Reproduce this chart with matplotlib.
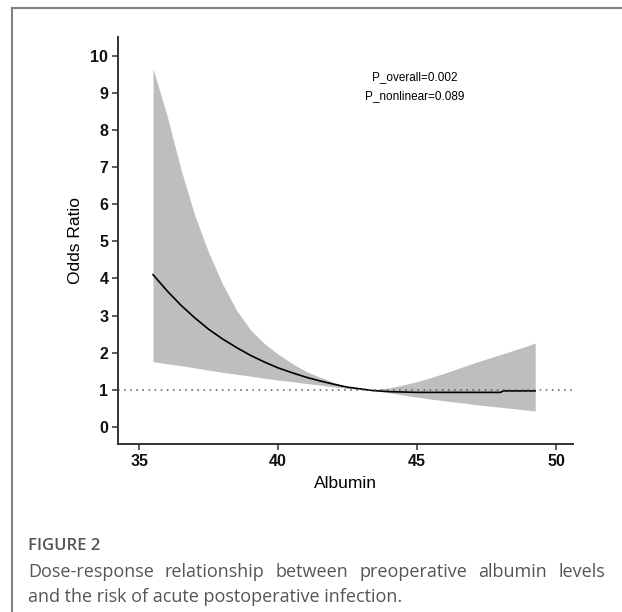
import numpy as np
import matplotlib.pyplot as plt
from matplotlib.lines import Line2D

# albumin grid and read-off values
albumin = [35.5, 36.0, 36.5, 37.0, 37.5, 38.0, 38.5, 39.0, 39.5, 40.0,
           40.5, 41.0, 41.5, 42.0, 42.5, 43.0, 43.4, 44.0, 44.5, 45.0,
           45.5, 46.0, 46.5, 47.0, 47.5, 48.0, 48.1, 48.5, 49.0, 49.25]
odds_ratio = [4.10, 3.67, 3.28, 2.94, 2.63, 2.37, 2.14, 1.93, 1.75, 1.59,
              1.46, 1.34, 1.24, 1.15, 1.07, 1.02, 0.98, 0.95, 0.94, 0.93,
              0.93, 0.93, 0.93, 0.93, 0.93, 0.93, 0.97, 0.97, 0.97, 0.97]
ci_upper = [9.65, 8.40, 6.95, 5.70, 4.70, 3.85, 3.15, 2.62, 2.25, 1.96,
            1.71, 1.50, 1.34, 1.20, 1.08, 1.02, 1.00, 1.05, 1.13, 1.22,
            1.33, 1.45, 1.58, 1.71, 1.83, 1.95, 1.97, 2.07, 2.19, 2.26]
ci_lower = [1.76, 1.70, 1.65, 1.59, 1.53, 1.47, 1.42, 1.37, 1.31, 1.26,
            1.22, 1.17, 1.13, 1.08, 1.04, 1.01, 0.99, 0.92, 0.86, 0.80,
            0.75, 0.70, 0.66, 0.61, 0.57, 0.53, 0.52, 0.49, 0.45, 0.43]

x_ticks = [35, 40, 45, 50]
y_ticks = list(range(0, 11))
p_texts = ["P_overall=0.002", "P_nonlinear=0.089"]

caption_title = "FIGURE 2"
caption_line1 = "Dose-response relationship between preoperative albumin levels"
caption_line2 = "and the risk of acute postoperative infection."

plt.rcParams['font.family'] = ['Liberation Sans', 'DejaVu Sans']

fig = plt.figure(figsize=(6.22, 6.12), dpi=100)
ax = fig.add_axes([0.1897, 0.2745, 0.7315, 0.665])

ax.fill_between(albumin, ci_lower, ci_upper, color='#bebebe', linewidth=0)
ax.plot(albumin, odds_ratio, color='black', linewidth=1.2)
ax.axhline(1, color='#555555', linewidth=1.1, linestyle=(0, (1, 3)))

ax.set_xlim(34.24, 50.61)
ax.set_ylim(-0.46, 10.5)
ax.set_xticks(x_ticks)
ax.set_yticks(y_ticks)
for s in ['top', 'right']:
    ax.spines[s].set_visible(False)
for s in ['left', 'bottom']:
    ax.spines[s].set_linewidth(1.4)
    ax.spines[s].set_color('#333333')
ax.tick_params(length=4, width=1.1, color='#333333', labelsize=11.5, pad=3)
for lab in ax.get_xticklabels() + ax.get_yticklabels():
    lab.set_fontweight('bold')
    lab.set_color('#111111')

ax.set_xlabel("Albumin", fontsize=12.5, labelpad=5)
ax.set_ylabel("Odds Ratio", fontsize=12.5, labelpad=5)

ax.text(44.9, 9.43, p_texts[0], ha='center', va='center', fontsize=8.5)
ax.text(44.9, 8.92, p_texts[1], ha='center', va='center', fontsize=8.5)

# frame lines of the figure panel
fig.add_artist(Line2D([12 / 622, 1.0], [1 - 8 / 612, 1 - 8 / 612],
                      color='#808080', linewidth=1.5))
fig.add_artist(Line2D([12 / 622, 12 / 622], [0, 1 - 8 / 612],
                      color='#808080', linewidth=1.5))

cap_color = '#555555'
cap_font = ['Open Sans', 'DejaVu Sans']
x_left, x_right = 28 / 622, 605 / 622
fig.text(x_left, 1 - 546 / 612, caption_title, fontsize=12, color=cap_color,
         family=cap_font, weight='semibold', va='center')

# justified first line
renderer = fig.canvas.get_renderer()
words = caption_line1.split()
y1 = 1 - 572 / 612
objs = [fig.text(0, y1, w, fontsize=13, color=cap_color, family=cap_font,
                 va='center') for w in words]
widths = [o.get_window_extent(renderer).width / 622 for o in objs]
gap = (x_right - x_left - sum(widths)) / (len(words) - 1)
pos = x_left
for o, w in zip(objs, widths):
    o.set_x(pos)
    pos += w + gap

fig.text(x_left, 1 - 597 / 612, caption_line2, fontsize=13, color=cap_color,
         family=cap_font, va='center')

fig.savefig("out.png", dpi=100)
